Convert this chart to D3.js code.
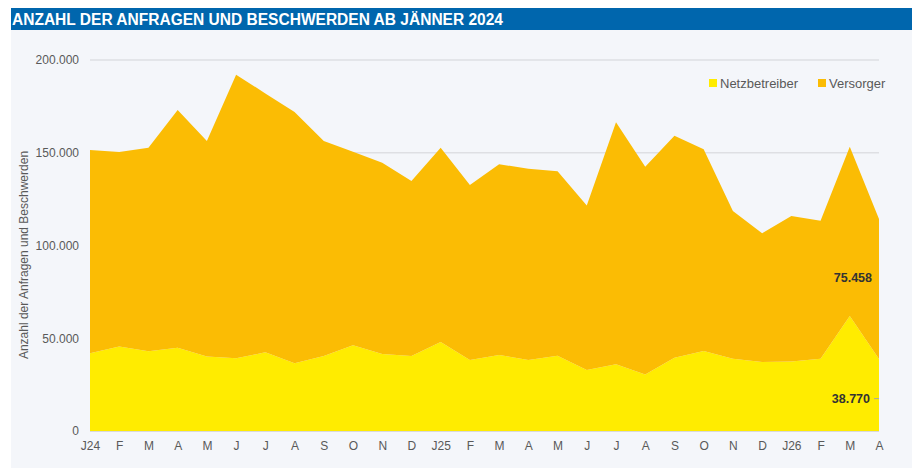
<!DOCTYPE html>
<html>
<head>
<meta charset="utf-8">
<script src="https://cdn.jsdelivr.net/npm/d3@7"></script>
<style>
  body { margin: 0; background: #fff; }
  svg { display: block; font-family: "Liberation Sans", Arial, sans-serif; }
</style>
</head>
<body>
<div id="chart"></div>
<script>
// month labels, Jan 2024 - Apr 2026
var months = ["J24","F","M","A","M","J","J","A","S","O","N","D",
              "J25","F","M","A","M","J","J","A","S","O","N","D",
              "J26","F","M","A"];

// series values
var netzbetreiber = [41900,45500,43000,44900,40100,39200,42400,36500,40400,46200,41500,40400,
                     48000,38300,41000,38300,40600,32900,36000,30400,39500,43100,39000,37200,
                     37400,39000,62000,38770];
var versorger = [109600,104900,109700,128100,116200,152900,139600,135500,115900,104400,103100,94400,
                 104700,94300,102800,103100,99400,88600,130400,112100,119700,108800,79600,69400,
                 78500,74400,91300,75458];

var yTicks = [0, 50000, 100000, 150000, 200000];
var seriesNames = ["Netzbetreiber", "Versorger"];
var seriesColors = ["#ffec00", "#fbbc04"];

// dimensions
var W = 912, H = 468;
var margin = {top: 60, right: 33, bottom: 37, left: 90},
    width = W - margin.left - margin.right,
    height = H - margin.top - margin.bottom;

var svg = d3.select("#chart").append("svg")
    .attr("width", W)
    .attr("height", H);

// title bar + background
svg.append("rect").attr("x", 11).attr("y", 30).attr("width", W - 11).attr("height", H - 30)
    .attr("fill", "#f4f6fa");
svg.append("rect").attr("x", 11).attr("y", 8).attr("width", W - 11).attr("height", 22)
    .attr("fill", "#0066ad");
svg.append("text")
    .attr("x", 12).attr("y", 25)
    .attr("fill", "#fff")
    .style("font-size", "16px")
    .style("font-weight", "bold")
    .attr("textLength", 491)
    .attr("lengthAdjust", "spacingAndGlyphs")
    .text("ANZAHL DER ANFRAGEN UND BESCHWERDEN AB JÄNNER 2024");

var g = svg.append("g")
    .attr("transform", "translate(" + margin.left + "," + margin.top + ")");

var x = d3.scalePoint().domain(d3.range(months.length)).range([0, width]);
var y = d3.scaleLinear().domain([0, 200000]).range([height, 0]);

var fmt = function (v) { return d3.format(",")(v).replace(/,/g, "."); };

// gridlines
g.append("g").selectAll("line")
    .data(yTicks.slice(1))
    .enter().append("line")
    .attr("x1", 0).attr("x2", width)
    .attr("y1", function (d) { return y(d); })
    .attr("y2", function (d) { return y(d); })
    .attr("stroke", "#dedfe3")
    .attr("stroke-width", 1.5);

// stacked data
var table = months.map(function (m, i) {
    return {i: i, Netzbetreiber: netzbetreiber[i], Versorger: versorger[i]};
});
var stack = d3.stack().keys(seriesNames);
var layers = stack(table);

var area = d3.area()
    .x(function (d) { return x(d.data.i); })
    .y0(function (d) { return y(d[0]); })
    .y1(function (d) { return y(d[1]); });

g.append("g").selectAll("path")
    .data(layers)
    .enter().append("path")
    .attr("d", area)
    .attr("fill", function (d, i) { return seriesColors[i]; });

// baseline
g.append("line")
    .attr("x1", 0).attr("x2", width)
    .attr("y1", height + 0.5).attr("y2", height + 0.5)
    .attr("stroke", "#d9d9d9");

// y axis
var yAxis = g.append("g")
    .call(d3.axisLeft(y).tickValues(yTicks).tickSize(0).tickPadding(11).tickFormat(fmt));
yAxis.select(".domain").remove();
yAxis.selectAll("text").attr("fill", "#595959").style("font-size", "12px");

// x axis
var xAxis = g.append("g")
    .attr("transform", "translate(0," + height + ")")
    .call(d3.axisBottom(x).tickSize(0).tickPadding(10).tickFormat(function (d) { return months[d]; }));
xAxis.select(".domain").remove();
xAxis.selectAll("text").attr("fill", "#595959").style("font-size", "12px");

// y axis title
svg.append("text")
    .attr("transform", "translate(28," + (margin.top + 195) + ") rotate(-90)")
    .attr("text-anchor", "middle")
    .attr("fill", "#595959")
    .style("font-size", "12px")
    .text("Anzahl der Anfragen und Beschwerden");

// data labels for the last month
var last = months.length - 1;
g.append("text")
    .attr("x", x(last) - 7)
    .attr("y", y(netzbetreiber[last] + versorger[last] * 0.58))
    .attr("dy", "0.35em")
    .attr("text-anchor", "end")
    .attr("fill", "#333")
    .style("font-size", "12.5px")
    .style("font-weight", "bold")
    .text(fmt(versorger[last]));
g.append("text")
    .attr("x", x(last) - 9)
    .attr("y", y(netzbetreiber[last] * 0.45))
    .attr("dy", "0.35em")
    .attr("text-anchor", "end")
    .attr("fill", "#333")
    .style("font-size", "12.5px")
    .style("font-weight", "bold")
    .text(fmt(netzbetreiber[last]));
g.append("line")
    .attr("x1", x(last) - 5).attr("x2", x(last))
    .attr("y1", y(netzbetreiber[last] * 0.45)).attr("y2", y(netzbetreiber[last] * 0.45))
    .attr("stroke", "#a6a6a6");

// legend
var legend = svg.append("g").attr("transform", "translate(709,79)");
var lx = [0, 109];
seriesNames.forEach(function (s, i) {
    legend.append("rect")
        .attr("x", lx[i]).attr("y", 0)
        .attr("width", 8).attr("height", 8)
        .attr("fill", seriesColors[i]);
    legend.append("text")
        .attr("x", lx[i] + 11).attr("y", 8.5)
        .attr("fill", "#595959")
        .style("font-size", "13px")
        .text(s);
});
</script>
</body>
</html>
